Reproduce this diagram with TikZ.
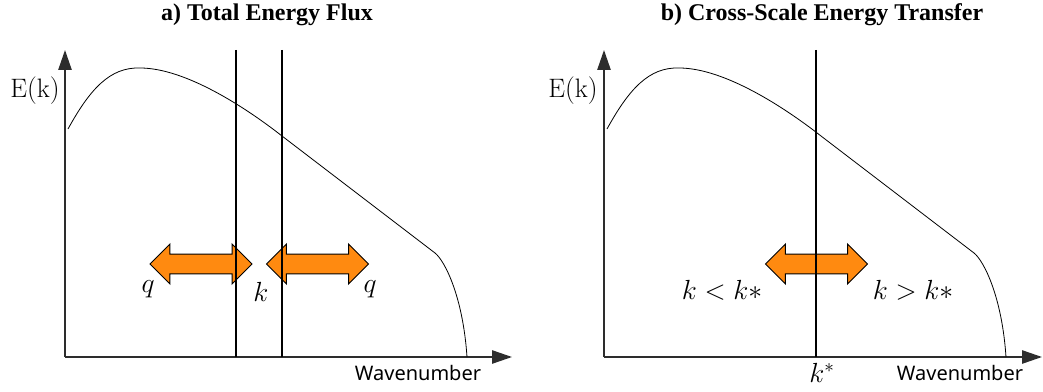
\documentclass[tikz,border=0pt]{standalone}
\usepackage{fontspec}
\usetikzlibrary{arrows.meta,shapes.arrows}
\newfontfamily\titlefont{Liberation Serif}
\newfontfamily\labelfont{Noto Sans}
\definecolor{fluxorange}{RGB}{255,138,16}
\definecolor{axisgray}{RGB}{45,45,45}
\tikzset{
  axis/.style={line width=1.2pt, draw=axisgray, -{Triangle[length=15pt,width=10pt]}},
  curve/.style={line width=0.6pt},
  cut/.style={line width=0.9pt},
  flux/.style={double arrow, draw=black, fill=fluxorange, line width=0.7pt,
    minimum height=76.5pt, double arrow head extend=7.5pt, inner xsep=0pt, inner ysep=7.1pt},
  heading/.style={font=\titlefont\bfseries\fontsize{18}{20}\selectfont},
  math/.style={font=\fontsize{20}{23}\selectfont},
  word/.style={font=\labelfont\fontsize{15}{17}\selectfont}
}
\newcommand{\spectrum}[1]{%
  \draw[curve, shift={(#1)}] (3,-228) .. controls (25,-268) and (45,-290) .. (75,-289)
    .. controls (120,-289) and (180,-250) .. (217,-221) -- (370,-104)
    .. controls (380,-96) and (398,-60) .. (402,0);}

\begin{document}
\begin{tikzpicture}[x=0.75pt, y=-0.75pt]
\useasboundingbox (0,0) rectangle (1043,392);

% a) total energy flux
\coordinate (o1) at (65,357);
\coordinate (y1) at (65,50);
\coordinate (x1) at (512,357);
\draw[axis] (o1) -- (y1);
\draw[axis] (o1) -- (x1);
\spectrum{o1}
\node (fa1) at (201,264) [flux] {};
\node (fa2) at (317.5,264) [flux] {};
\foreach \x [count=\i] in {236,282} {
  \coordinate (c\i t) at (\x,50);
  \coordinate (c\i b) at (\x,357);
  \draw[cut] (c\i t) -- (c\i b);
}
\node (q1) at (148,289) [math] {$q$};
\node (k1) at (261,292) [math] {$k$};
\node (q2) at (370,289) [math] {$q$};
\node (e1) at (35,91) [math] {$\mathrm{E(k)}$};
\node (w1) at (418,373) [word] {Wavenumber};
\node (t1) at (267,15) [heading] {a) Total Energy Flux};

% b) cross-scale energy transfer
\coordinate (o2) at (604,357);
\coordinate (y2) at (604,50);
\coordinate (x2) at (1042,357);
\draw[axis] (o2) -- (y2);
\draw[axis] (o2) -- (x2);
\spectrum{o2}
\node (fa3) at (816.5,264) [flux] {};
\coordinate (c3t) at (816,50);
\coordinate (c3b) at (816,357);
\draw[cut] (c3t) -- (c3b);
\node (lt) at (722,290) [math] {$k<k*$};
\node (gt) at (913,290) [math] {$k>k*$};
\node (ks) at (822,373) [math] {$k^*$};
\node (e2) at (573,91) [math] {$\mathrm{E(k)}$};
\node (w2) at (960,373) [word] {Wavenumber};
\node (t2) at (822,15) [heading] {b) Cross-Scale Energy Transfer};
\end{tikzpicture}
\end{document}
